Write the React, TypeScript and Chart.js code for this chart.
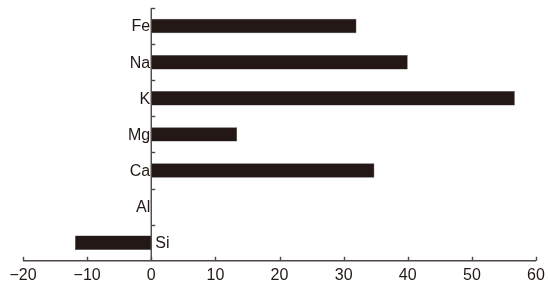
import React, { useEffect, useRef } from "react";
import { Chart, registerables } from "chart.js";

Chart.register(...registerables);

const categories = ["Fe", "Na", "K", "Mg", "Ca", "Al", "Si"];
const values = [32, 40, 56.7, 13.4, 34.8, 0, -11.9];
const xMin = -20;
const xMax = 60;
const xStep = 10;

const INK = "#231815";
const AXIS = "#4e4644";
const FONT = "'Liberation Sans', Arial, sans-serif";

const axisPlugin = {
  id: "customAxes",
  afterDatasetsDraw(chart: any) {
    const { ctx, chartArea, scales } = chart;
    const xs = scales.x;
    const ys = scales.y;
    const x0 = xs.getPixelForValue(0);
    const bottom = chartArea.bottom;
    const top = chartArea.top;
    ctx.save();
    ctx.strokeStyle = AXIS;
    ctx.lineWidth = 1.4;
    ctx.beginPath();
    ctx.moveTo(xs.getPixelForValue(xMin), bottom);
    ctx.lineTo(xs.getPixelForValue(xMax), bottom);
    ctx.stroke();
    for (let v = xMin; v <= xMax; v += xStep) {
      const px = Math.round(xs.getPixelForValue(v)) + 0.5;
      ctx.beginPath();
      ctx.moveTo(px, bottom);
      ctx.lineTo(px, bottom - 4);
      ctx.stroke();
    }
    ctx.beginPath();
    ctx.moveTo(x0, top);
    ctx.lineTo(x0, bottom);
    ctx.stroke();
    const n = categories.length;
    const step = (bottom - top) / n;
    for (let i = 0; i < n; i++) {
      const py = Math.round(top + i * step) + 0.5;
      ctx.beginPath();
      ctx.moveTo(x0, py);
      ctx.lineTo(x0 + 4, py);
      ctx.stroke();
    }
    ctx.fillStyle = INK;
    ctx.font = `16px ${FONT}`;
    ctx.textBaseline = "middle";
    categories.forEach((c, i) => {
      const py = ys.getPixelForValue(i);
      if (values[i] < 0) {
        ctx.textAlign = "left";
        ctx.fillText(c, x0 + 4, py + 1);
      } else {
        ctx.textAlign = "right";
        ctx.fillText(c, x0 - 1, py + 1);
      }
    });
    ctx.restore();
  },
};

export default function App() {
  const ref = useRef<HTMLCanvasElement | null>(null);
  useEffect(() => {
    if (!ref.current) return;
    const chart = new Chart(ref.current, {
      type: "bar",
      data: {
        labels: categories,
        datasets: [
          {
            data: values,
            backgroundColor: INK,
            borderColor: "#4a4240",
            borderWidth: 0.5,
            barPercentage: 0.4,
            categoryPercentage: 1,
          },
        ],
      },
      options: {
        indexAxis: "y",
        animation: false,
        responsive: false,
        maintainAspectRatio: false,
        layout: { padding: { top: 8, left: 23, right: 14, bottom: 0 } },
        plugins: { legend: { display: false }, tooltip: { enabled: false } },
        scales: {
          x: {
            type: "linear",
            min: xMin,
            max: xMax,
            grid: { display: false, drawTicks: false },
            border: { display: false },
            ticks: {
              stepSize: xStep,
              padding: 5,
              color: INK,
              font: { size: 16, family: FONT },
              maxRotation: 0,
              callback: (v: any) => String(v).replace("-", "\u2212"),
            },
          },
          y: {
            type: "category",
            display: false,
            offset: true,
          },
        },
      },
      plugins: [axisPlugin],
    });
    return () => chart.destroy();
  }, []);
  return (
    <div style={{ position: "fixed", left: 0, top: 0, width: 550, height: 290, background: "#fff" }}>
      <canvas ref={ref} width={550} height={290} style={{ width: 550, height: 290 }} />
    </div>
  );
}
